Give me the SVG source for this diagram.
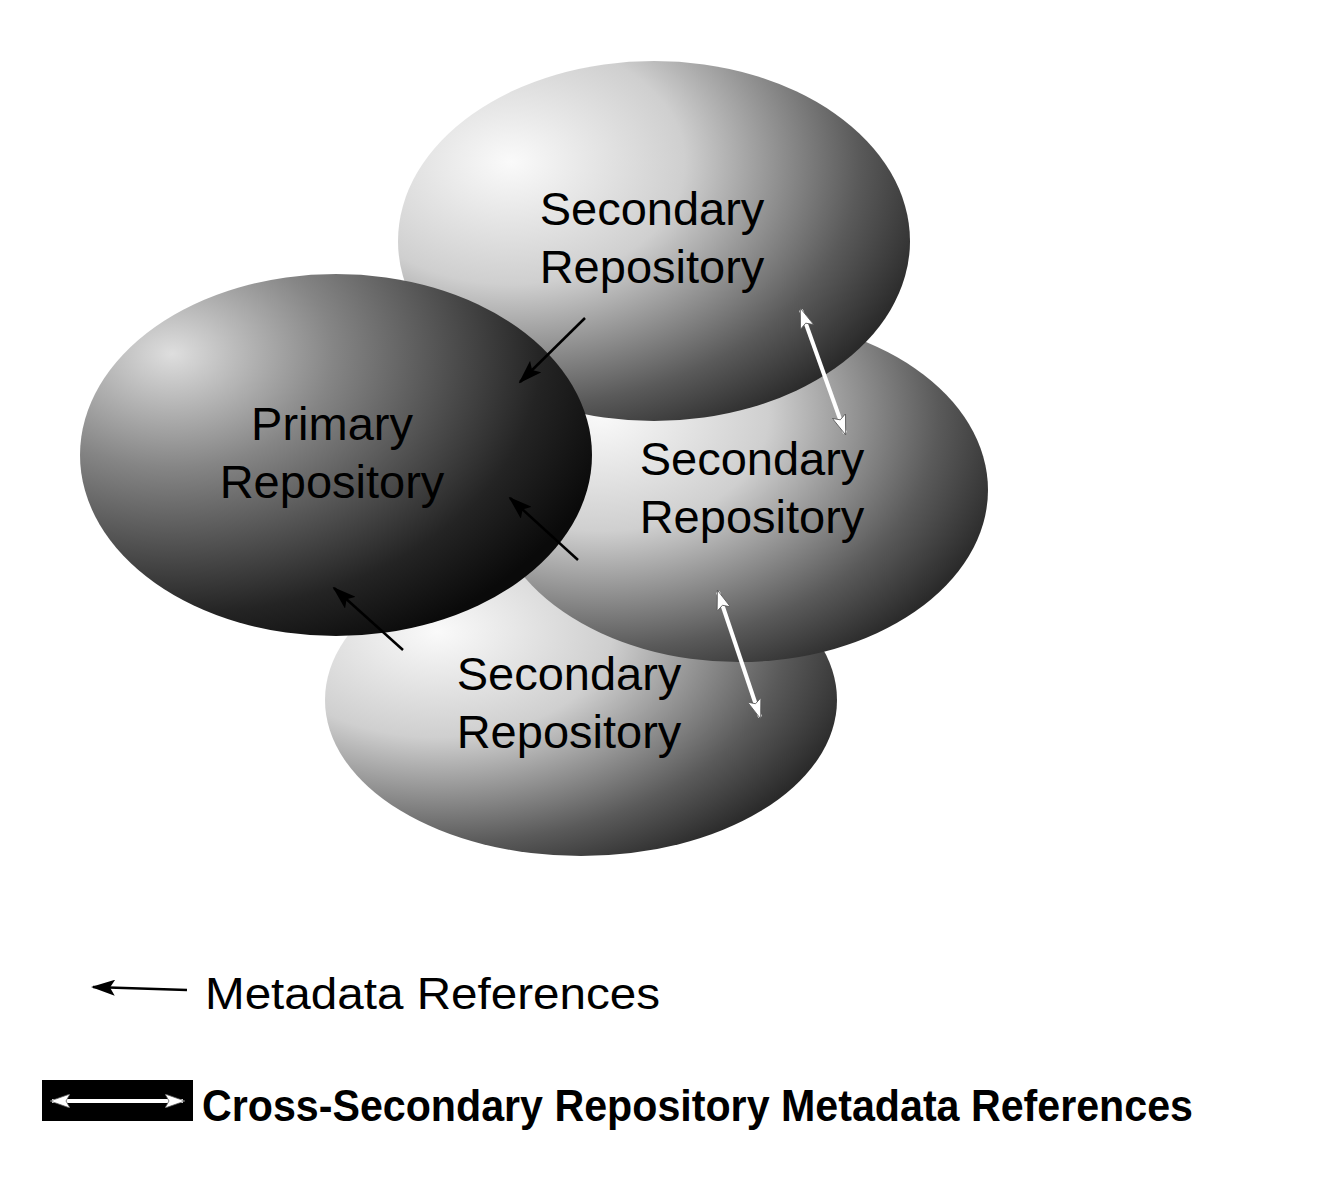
<svg xmlns="http://www.w3.org/2000/svg" width="1322" height="1188" viewBox="0 0 1322 1188">
<style>
.t{font-family:"Liberation Sans",Arial,sans-serif;font-size:47px;fill:#000;text-anchor:middle;letter-spacing:0px}
.ref{stroke:#000;stroke-width:2.5;fill:none}
.cross{stroke:#fff;stroke-width:4;fill:none}
</style>
<defs>
<radialGradient id="gs" cx="0.22" cy="0.28" r="0.85">
<stop offset="0" stop-color="#fafafa"/><stop offset="0.4" stop-color="#cfcfcf"/><stop offset="0.8" stop-color="#5a5a5a"/><stop offset="1" stop-color="#2a2a2a"/>
</radialGradient>
<radialGradient id="gp" cx="0.18" cy="0.22" r="0.9">
<stop offset="0" stop-color="#dedede"/><stop offset="0.35" stop-color="#858585"/><stop offset="0.8" stop-color="#242424"/><stop offset="1" stop-color="#0a0a0a"/>
</radialGradient>
<marker id="ab2" markerWidth="24" markerHeight="16" refX="22" refY="8" orient="auto" markerUnits="userSpaceOnUse"><path d="M0,0 L24,8 L0,16 L5,8 Z" fill="#000"/></marker>
<marker id="aw" markerWidth="20" markerHeight="14" refX="18" refY="7" orient="auto-start-reverse" markerUnits="userSpaceOnUse"><path d="M0,0 L20,7 L0,14 L4,7 Z" fill="#fff" stroke="#555" stroke-width="0.8"/></marker>
</defs>
<rect width="1322" height="1188" fill="#fff"/>
<g id="secondary-bottom"><ellipse cx="581" cy="700" rx="256" ry="156" fill="url(#gs)"/><text class="t" x="569" y="690">Secondary</text><text class="t" x="569" y="748">Repository</text></g>
<g id="secondary-middle"><ellipse cx="739" cy="490" rx="249" ry="172" fill="url(#gs)"/><text class="t" x="752" y="475">Secondary</text><text class="t" x="752" y="533">Repository</text></g>
<g id="secondary-top"><ellipse cx="654" cy="241" rx="256" ry="180" fill="url(#gs)"/><text class="t" x="652" y="225">Secondary</text><text class="t" x="652" y="283">Repository</text></g>
<g id="primary"><ellipse cx="336" cy="455" rx="256" ry="181" fill="url(#gp)"/><text class="t" x="332" y="440">Primary</text><text class="t" x="332" y="498">Repository</text></g>
<g id="connectors">
<path class="ref" d="M585,318 L520,382" marker-end="url(#ab2)"/>
<path class="ref" d="M578,560 L510,498" marker-end="url(#ab2)"/>
<path class="ref" d="M403,650 L334,588" marker-end="url(#ab2)"/>
<path class="cross" d="M801,310 L845,433" marker-start="url(#aw)" marker-end="url(#aw)"/>
<path class="cross" d="M718,592 L760,717" marker-start="url(#aw)" marker-end="url(#aw)"/>
</g>
<g id="legend">
<path class="ref" d="M187,990 L93,987" stroke-width="2" marker-end="url(#ab2)"/>
<text x="205" y="1009" textLength="455" lengthAdjust="spacingAndGlyphs" style="font-family:'Liberation Sans',Arial,sans-serif;font-size:45px">Metadata References</text>
<rect x="42" y="1080" width="151" height="41" fill="#000"/>
<path class="cross" d="M52,1101 L183,1101" stroke-width="3" marker-start="url(#aw)" marker-end="url(#aw)"/>
<text x="202" y="1121" textLength="991" lengthAdjust="spacingAndGlyphs" style="font-family:'Liberation Sans Narrow','Liberation Sans',Arial,sans-serif;font-weight:bold;font-size:44px">Cross-Secondary Repository Metadata References</text>
</g>
</svg>
